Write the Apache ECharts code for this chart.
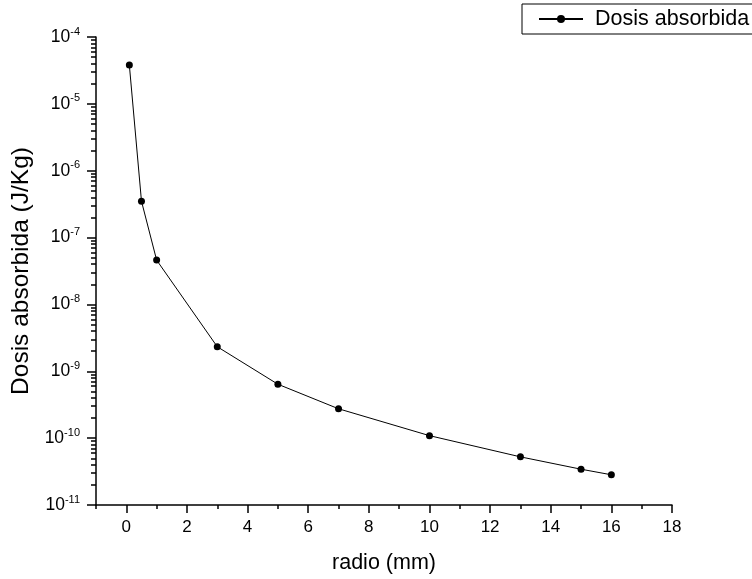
<!DOCTYPE html>
<html>
<head>
<meta charset="utf-8">
<script src="https://cdn.jsdelivr.net/npm/echarts@6/dist/echarts.min.js"></script>
<style>html,body{margin:0;padding:0;background:#fff}#c{width:752px;height:579px}</style>
</head>
<body>
<div id="c"></div>
<script>
var radio = [0.1, 0.5, 1, 3, 5, 7, 10, 13, 15, 16];
var dosis = [3.8e-5, 3.5e-7, 4.6e-8, 2.33e-9, 6.4e-10, 2.75e-10, 1.09e-10, 5.25e-11, 3.43e-11, 2.83e-11];
var xMajorTicks = [0, 2, 4, 6, 8, 10, 12, 14, 16, 18];
var seriesName = 'Dosis absorbida';
var xTitle = 'radio (mm)';
var yTitle = 'Dosis absorbida (J/Kg)';

var FONT = 'Liberation Sans, Arial, sans-serif';
var minorY = [];
for (var e = -11; e < -4; e++) {
  for (var k = 2; k <= 9; k++) minorY.push(e + Math.log10(k));
}
var chart = echarts.init(document.getElementById('c'), null, {renderer: 'canvas'});
var grid = {left: 96, right: 80, top: 37, bottom: 72};
chart.setOption({
  animation: false,
  backgroundColor: '#fff',
  textStyle: {fontFamily: FONT},
  grid: grid,
  legend: {
    data: [seriesName],
    left: 522, top: 4,
    orient: 'horizontal',
    borderColor: '#000', borderWidth: 1,
    padding: [4, 40, 4, 16],
    itemWidth: 44, itemHeight: 10,
    textStyle: {fontFamily: FONT, fontSize: 21.5, color: '#000', padding: [0, 0, 0, 7]}
  },
  xAxis: [{
    type: 'value', min: -1, max: 18, interval: 1,
    position: 'bottom',
    axisLine: {show: true, onZero: false, lineStyle: {color: '#000', width: 1.5}},
    axisTick: {show: true, inside: false, length: 4, lineStyle: {color: '#000', width: 1.5}},
    axisLabel: {show: false},
    splitLine: {show: false},
    name: xTitle, nameLocation: 'middle', nameGap: 47,
    nameTextStyle: {fontFamily: FONT, fontSize: 21.5, color: '#000'}
  }, {
    type: 'value', min: -1, max: 18,
    position: 'bottom',
    axisLine: {show: false, onZero: false},
    axisTick: {show: true, length: 8, customValues: xMajorTicks, lineStyle: {color: '#000', width: 1.5}},
    axisLabel: {show: true, customValues: xMajorTicks, fontFamily: FONT, fontSize: 17, color: '#000', margin: 14},
    splitLine: {show: false}
  }],
  yAxis: [{
    type: 'log', logBase: 10, min: 1e-11, max: 1e-4,
    axisLine: {show: true, onZero: false, lineStyle: {color: '#000', width: 1.5}},
    axisTick: {show: true, length: 9, lineStyle: {color: '#000', width: 1.5}},
    axisLabel: {
      show: true, margin: 16, color: '#000', fontFamily: FONT,
      formatter: function (v) {
        var ex = Math.round(Math.log10(v));
        return '{b|10}{e|' + ex + '}';
      },
      rich: {
        b: {fontFamily: FONT, fontSize: 17.5, color: '#000', lineHeight: 22},
        e: {fontFamily: FONT, fontSize: 11, color: '#000', verticalAlign: 'top', lineHeight: 12}
      }
    },
    splitLine: {show: false},
    name: yTitle, nameLocation: 'middle', nameGap: 62, nameRotate: 90,
    nameTextStyle: {fontFamily: FONT, fontSize: 24.5, color: '#000'}
  }, {
    type: 'value', min: -11, max: -4,
    position: 'left',
    axisLine: {show: false, onZero: false},
    axisTick: {show: true, inside: false, length: 5, customValues: minorY, lineStyle: {color: '#000', width: 1.5}},
    axisLabel: {show: false},
    splitLine: {show: false}
  }],
  series: [{
    name: seriesName,
    type: 'line',
    xAxisIndex: 0, yAxisIndex: 0,
    data: radio.map(function (x, i) { return [x, dosis[i]]; }),
    symbol: 'circle', symbolSize: 7,
    lineStyle: {color: '#000', width: 1},
    itemStyle: {color: '#000'}
  }]
});
</script>
</body>
</html>
